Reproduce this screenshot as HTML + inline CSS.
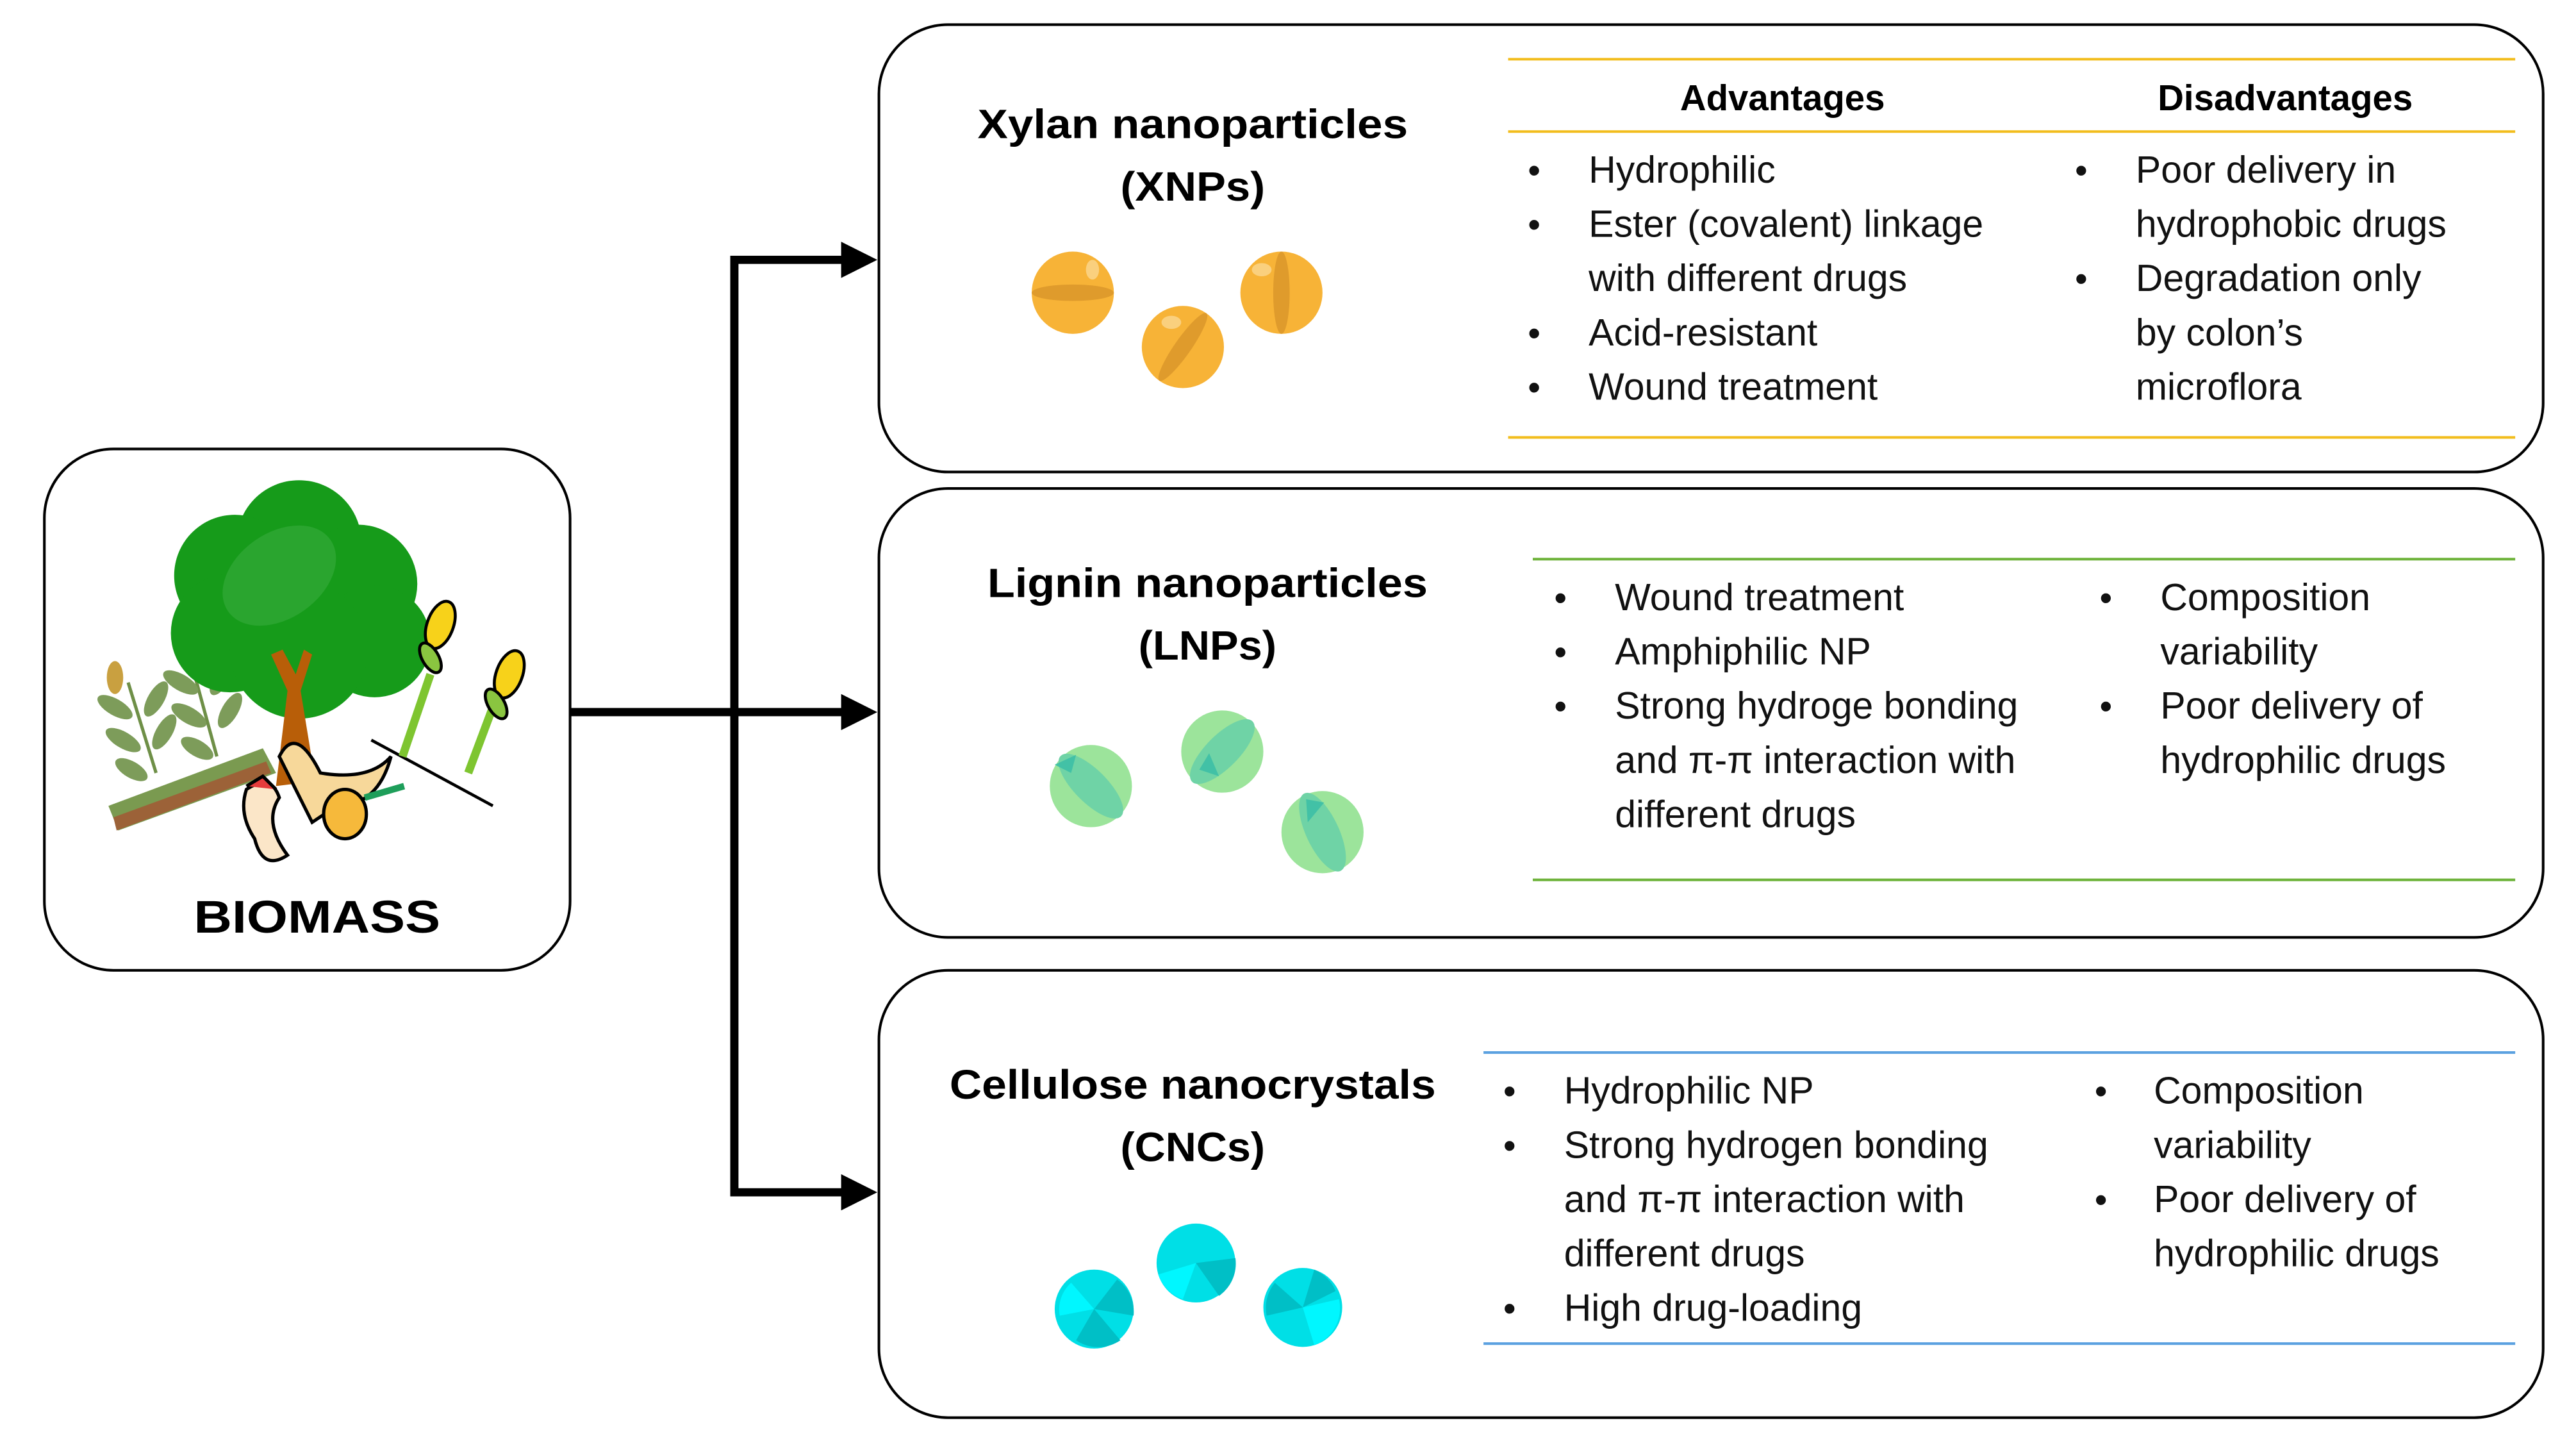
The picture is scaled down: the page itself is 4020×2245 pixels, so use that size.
<!DOCTYPE html>
<html><head><meta charset="utf-8"><style>html,body{margin:0;padding:0;background:#fff}svg{display:block}</style></head>
<body>
<svg width="4020" height="2245" viewBox="0 0 1568 875" preserveAspectRatio="none" xmlns="http://www.w3.org/2000/svg" font-family="'Liberation Sans', sans-serif">
<rect width="1568" height="875" fill="#fff"/>
<rect x="27" y="273" width="320" height="317" rx="42" fill="none" stroke="#000" stroke-width="1.6"/>
<rect x="535" y="15" width="1013" height="272" rx="42" fill="none" stroke="#000" stroke-width="1.6"/>
<rect x="535" y="297" width="1013" height="273" rx="42" fill="none" stroke="#000" stroke-width="1.6"/>
<rect x="535" y="590" width="1013" height="272" rx="42" fill="none" stroke="#000" stroke-width="1.6"/>
<g stroke="#000" stroke-width="5" fill="none">
<line x1="347" y1="433" x2="514" y2="433"/>
<polyline points="514,158 447,158 447,725 514,725"/>
</g>
<g fill="#000">
<polygon points="512,147 534,158 512,169"/>
<polygon points="512,422 534,433 512,444"/>
<polygon points="512,714 534,725 512,736"/>
</g>
<g>
<polygon points="66,490 160,455 168,470 72,505" fill="#7a9a50"/>
<polygon points="69,497 162,463 165,470 71,505" fill="#9c6238"/>
<g stroke="#6e8f47" stroke-width="2">
<line x1="78" y1="415" x2="95" y2="470"/>
<line x1="117" y1="405" x2="132" y2="460"/>
</g>
<g fill="#7d9c5a">
<ellipse cx="70" cy="430" rx="12" ry="5" transform="rotate(30 70 430)"/><ellipse cx="95" cy="425" rx="12" ry="5" transform="rotate(-60 95 425)"/>
<ellipse cx="75" cy="450" rx="12" ry="5" transform="rotate(30 75 450)"/><ellipse cx="100" cy="445" rx="12" ry="5" transform="rotate(-60 100 445)"/>
<ellipse cx="80" cy="468" rx="11" ry="5" transform="rotate(30 80 468)"/>
<ellipse cx="110" cy="415" rx="12" ry="5" transform="rotate(30 110 415)"/><ellipse cx="135" cy="412" rx="12" ry="5" transform="rotate(-60 135 412)"/>
<ellipse cx="115" cy="435" rx="12" ry="5" transform="rotate(30 115 435)"/><ellipse cx="140" cy="432" rx="12" ry="5" transform="rotate(-60 140 432)"/>
<ellipse cx="120" cy="455" rx="11" ry="5" transform="rotate(30 120 455)"/>
</g>
<ellipse cx="70" cy="412" rx="5" ry="10" fill="#c9a040"/><ellipse cx="116" cy="400" rx="5" ry="10" fill="#c9a040"/>
<g fill="#169b1a">
<circle cx="182" cy="330" r="38"/><circle cx="143" cy="350" r="37"/><circle cx="218" cy="355" r="36"/>
<circle cx="140" cy="385" r="36"/><circle cx="228" cy="390" r="34"/><circle cx="182" cy="395" r="42"/>
</g>
<ellipse cx="170" cy="350" rx="38" ry="26" fill="#2aa52f" transform="rotate(-35 170 350)"/>
<path d="M175,420 L165,398 L172,395 L180,410 L185,395 L190,398 L183,420 L192,475 L168,478 Z" fill="#b85e08"/>
<g stroke="#000" stroke-width="1.8">
<line x1="226" y1="450" x2="300" y2="490" fill="none"/>
<line x1="262" y1="410" x2="245" y2="460" stroke="#7ec530" stroke-width="5"/>
<line x1="300" y1="430" x2="285" y2="470" stroke="#7ec530" stroke-width="5"/>
<ellipse cx="268" cy="380" rx="8" ry="15" fill="#f7d21a" transform="rotate(20 268 380)"/>
<ellipse cx="310" cy="410" rx="8" ry="15" fill="#f7d21a" transform="rotate(20 310 410)"/>
<ellipse cx="262" cy="400" rx="5" ry="10" fill="#8ac540" transform="rotate(-30 262 400)"/>
<ellipse cx="302" cy="428" rx="5" ry="10" fill="#8ac540" transform="rotate(-30 302 428)"/>
</g>
<g stroke="#000" stroke-width="2">
<path d="M170,460 Q180,440 195,470 Q225,475 238,460 Q230,490 205,490 L190,500 Z" fill="#f7d89a"/>
<path d="M150,480 Q165,470 170,485 Q160,500 175,520 Q160,530 155,510 Q145,495 150,480 Z" fill="#fbe6c8"/>
<path d="M150,478 L160,472 L168,480" fill="#e53c3c"/>
<ellipse cx="210" cy="495" rx="13" ry="15" fill="#f6b93b"/>
<line x1="222" y1="485" x2="246" y2="478" stroke="#1e9e5a" stroke-width="4"/>
</g>
</g>
<text x="193" y="567" text-anchor="middle" font-weight="bold" font-size="28" textLength="150" lengthAdjust="spacingAndGlyphs">BIOMASS</text>

<g font-weight="bold" font-size="25" text-anchor="middle">
<text x="726" y="84" textLength="262" lengthAdjust="spacingAndGlyphs">Xylan nanoparticles</text>
<text x="726" y="122" textLength="88" lengthAdjust="spacingAndGlyphs">(XNPs)</text>
<text x="735" y="363" textLength="268" lengthAdjust="spacingAndGlyphs">Lignin nanoparticles</text>
<text x="735" y="401" textLength="84" lengthAdjust="spacingAndGlyphs">(LNPs)</text>
<text x="726" y="668" textLength="296" lengthAdjust="spacingAndGlyphs">Cellulose nanocrystals</text>
<text x="726" y="706" textLength="88" lengthAdjust="spacingAndGlyphs">(CNCs)</text>
</g>

<g>
<circle cx="653" cy="178" r="25" fill="#f7b337"/><ellipse cx="653" cy="178" rx="25" ry="5" fill="#df9b2c"/><ellipse cx="665" cy="164" rx="4" ry="6" fill="#fad07e"/>
<circle cx="720" cy="211" r="25" fill="#f7b337"/><ellipse cx="720" cy="211" rx="25" ry="5" fill="#df9b2c" transform="rotate(-55 720 211)"/><ellipse cx="713" cy="196" rx="6" ry="4" fill="#fad07e"/>
<circle cx="780" cy="178" r="25" fill="#f7b337"/><ellipse cx="780" cy="178" rx="5" ry="25" fill="#df9b2c"/><ellipse cx="768" cy="164" rx="6" ry="4" fill="#fad07e"/>
</g>
<g>
<circle cx="664" cy="478" r="25" fill="#9ce49b"/><ellipse cx="664" cy="478" rx="26" ry="10" fill="#6fd3a6" transform="rotate(45 664 478)"/><path d="M642,465 L655,459 L652,470 Z" fill="#42c1a6"/>
<circle cx="744" cy="457" r="25" fill="#9ce49b"/><ellipse cx="744" cy="457" rx="26" ry="10" fill="#6fd3a6" transform="rotate(-45 744 457)"/><path d="M730,468 L736,458 L742,472 Z" fill="#42c1a6"/>
<circle cx="805" cy="506" r="25" fill="#9ce49b"/><ellipse cx="805" cy="506" rx="10" ry="26" fill="#6fd3a6" transform="rotate(-25 805 506)"/><path d="M795,486 L806,488 L796,500 Z" fill="#42c1a6"/>
</g>
<g>
<circle cx="666" cy="796" r="24" fill="#00dfe6"/><path d="M652,780 A22,22 0 0 0 645,800 L666,796 Z" fill="#00f7ff"/><path d="M666,796 L690,800 A24,24 0 0 0 680,778 Z" fill="#00bfc6"/><path d="M666,796 L655,815 A24,24 0 0 0 682,815 Z" fill="#00bfc6"/>
<circle cx="728" cy="768" r="24" fill="#00dfe6"/><path d="M728,768 L720,790 A24,24 0 0 1 705,775 Z" fill="#00f7ff"/><path d="M728,768 L752,765 A24,24 0 0 1 742,788 Z" fill="#00bfc6"/>
<circle cx="793" cy="795" r="24" fill="#00dfe6"/><path d="M793,795 L815,790 A24,24 0 0 1 800,818 Z" fill="#00f7ff"/><path d="M793,795 L771,800 A24,24 0 0 1 776,780 Z" fill="#00bfc6"/><path d="M793,795 L813,785 A24,24 0 0 0 800,772 Z" fill="#00bfc6"/>
</g>

<g stroke-width="1.6">
<line x1="918" y1="36" x2="1531" y2="36" stroke="#f2bd1d"/>
<line x1="918" y1="80" x2="1531" y2="80" stroke="#f2bd1d"/>
<line x1="918" y1="266" x2="1531" y2="266" stroke="#f2bd1d"/>
<line x1="933" y1="340" x2="1531" y2="340" stroke="#6fb33c"/>
<line x1="933" y1="535" x2="1531" y2="535" stroke="#6fb33c"/>
<line x1="903" y1="640" x2="1531" y2="640" stroke="#5ba1e0"/>
<line x1="903" y1="817" x2="1531" y2="817" stroke="#5ba1e0"/>
</g>
<g font-weight="bold" font-size="22" text-anchor="middle">
<text x="1085" y="67">Advantages</text>
<text x="1391" y="67">Disadvantages</text>
</g>

<g font-size="23" fill="#111">
<g font-size="22"><text x="930" y="111">•</text><text x="930" y="144">•</text><text x="930" y="210">•</text><text x="930" y="243">•</text>
<text x="1263" y="111">•</text><text x="1263" y="177">•</text></g>
<text x="967" y="111">Hydrophilic</text>
<text x="967" y="144">Ester (covalent) linkage</text>
<text x="967" y="177">with different drugs</text>
<text x="967" y="210">Acid-resistant</text>
<text x="967" y="243">Wound treatment</text>
<text x="1300" y="111">Poor delivery in</text>
<text x="1300" y="144">hydrophobic drugs</text>
<text x="1300" y="177">Degradation only</text>
<text x="1300" y="210">by colon’s</text>
<text x="1300" y="243">microflora</text>
<g font-size="22"><text x="946" y="371">•</text><text x="946" y="404">•</text><text x="946" y="437">•</text>
<text x="1278" y="371">•</text><text x="1278" y="437">•</text></g>
<text x="983" y="371">Wound treatment</text>
<text x="983" y="404">Amphiphilic NP</text>
<text x="983" y="437">Strong hydroge bonding</text>
<text x="983" y="470">and π-π interaction with</text>
<text x="983" y="503">different drugs</text>
<text x="1315" y="371">Composition</text>
<text x="1315" y="404">variability</text>
<text x="1315" y="437">Poor delivery of</text>
<text x="1315" y="470">hydrophilic drugs</text>
<g font-size="22"><text x="915" y="671">•</text><text x="915" y="704">•</text><text x="915" y="803">•</text>
<text x="1275" y="671">•</text><text x="1275" y="737">•</text></g>
<text x="952" y="671">Hydrophilic NP</text>
<text x="952" y="704">Strong hydrogen bonding</text>
<text x="952" y="737">and π-π interaction with</text>
<text x="952" y="770">different drugs</text>
<text x="952" y="803">High drug-loading</text>
<text x="1311" y="671">Composition</text>
<text x="1311" y="704">variability</text>
<text x="1311" y="737">Poor delivery of</text>
<text x="1311" y="770">hydrophilic drugs</text>
</g>
</svg>
</body></html>
